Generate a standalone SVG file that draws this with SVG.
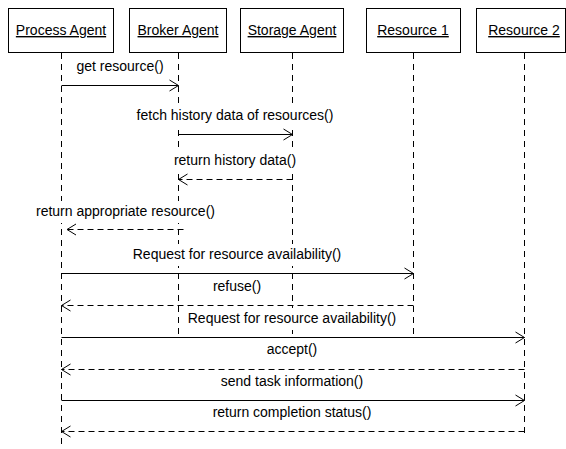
<svg xmlns="http://www.w3.org/2000/svg" width="566" height="449" viewBox="0 0 566 449">
<style>
  .box { fill: #ffffff; stroke: #000000; stroke-width: 1; }
  .name { font-family: "Liberation Sans", Arial, sans-serif; font-size: 14px; fill: #000000; text-anchor: middle; text-decoration: underline; }
  .life { stroke: #000000; stroke-width: 1; stroke-dasharray: 6,5; fill: none; }
  .msg { stroke: #000000; stroke-width: 1; fill: none; marker-end: url(#open); }
  .ret { stroke: #000000; stroke-width: 1; fill: none; stroke-dasharray: 6,4; marker-end: url(#open); }
  .lbl { font-family: "Liberation Sans", Arial, sans-serif; font-size: 14px; fill: #000000; text-anchor: middle; }
  .bg { fill: #ffffff; stroke: none; }
</style>
<defs>
  <marker id="open" markerUnits="userSpaceOnUse" markerWidth="12" markerHeight="14" refX="9" refY="6" orient="auto" overflow="visible">
    <path d="M0,0.5 L9,6 L0,11.5" fill="none" stroke="#000000" stroke-width="1" stroke-dasharray="none"/>
  </marker>
</defs>
<rect width="566" height="449" fill="#ffffff"/>

<g id="process-agent">
  <line class="life" x1="61.5" y1="53" x2="61.5" y2="449"/>
  <rect class="box" x="8.5" y="8.5" width="105" height="44"/>
  <text class="name" x="61" y="35">Process Agent</text>
</g>
<g id="broker-agent">
  <line class="life" x1="178.5" y1="53" x2="178.5" y2="338"/>
  <rect class="box" x="129.5" y="8.5" width="97" height="44"/>
  <text class="name" x="178" y="35">Broker Agent</text>
</g>
<g id="storage-agent">
  <line class="life" x1="292.5" y1="53" x2="292.5" y2="338"/>
  <rect class="box" x="240.5" y="8.5" width="103" height="44"/>
  <text class="name" x="292" y="35">Storage Agent</text>
</g>
<g id="resource-1">
  <line class="life" x1="413.5" y1="53" x2="413.5" y2="338"/>
  <rect class="box" x="366.5" y="8.5" width="94" height="44"/>
  <text class="name" x="413" y="35">Resource 1</text>
</g>
<g id="resource-2">
  <line class="life" x1="524.5" y1="53" x2="524.5" y2="434"/>
  <rect class="box" x="476.5" y="8.5" width="89" height="44"/>
  <text class="name" x="524" y="35">Resource 2</text>
</g>

<g id="connectors">
  <!-- label backgrounds -->
  <rect class="bg" x="73" y="56" width="93" height="22"/>
  <rect class="bg" x="134" y="105" width="202" height="22"/>
  <rect class="bg" x="171" y="150" width="128" height="22"/>
  <rect class="bg" x="33" y="201" width="185" height="22"/>
  <rect class="bg" x="130" y="244" width="214" height="22"/>
  <rect class="bg" x="210" y="276" width="54" height="22"/>
  <rect class="bg" x="185" y="308" width="214" height="22"/>
  <rect class="bg" x="264" y="339" width="57" height="22"/>
  <rect class="bg" x="218" y="371" width="149" height="22"/>
  <rect class="bg" x="210" y="402" width="165" height="22"/>

  <line class="msg" x1="61.5" y1="85.5" x2="178.5" y2="85.5"/>
  <text class="lbl" x="120" y="71">get resource()</text>

  <line class="msg" x1="178.5" y1="134.5" x2="292.5" y2="134.5"/>
  <text class="lbl" x="235" y="120">fetch history data of resources()</text>

  <line class="ret" x1="292.5" y1="179.5" x2="178.5" y2="179.5"/>
  <text class="lbl" x="235" y="165">return history data()</text>

  <line class="ret" x1="183.5" y1="229.5" x2="67" y2="229.5"/>
  <text class="lbl" x="125.5" y="216">return appropriate resource()</text>

  <line class="msg" x1="61.5" y1="273.5" x2="413.5" y2="273.5"/>
  <text class="lbl" x="237" y="259">Request for resource availability()</text>

  <line class="ret" x1="413.5" y1="305.5" x2="61.5" y2="305.5"/>
  <text class="lbl" x="237" y="291">refuse()</text>

  <line class="msg" x1="61.5" y1="337.5" x2="524.5" y2="337.5"/>
  <text class="lbl" x="292" y="323">Request for resource availability()</text>

  <line class="ret" x1="524.5" y1="369.5" x2="61.5" y2="369.5"/>
  <text class="lbl" x="292" y="354">accept()</text>

  <line class="msg" x1="61.5" y1="400.5" x2="524.5" y2="400.5"/>
  <text class="lbl" x="292" y="386">send task information()</text>

  <line class="ret" x1="524.5" y1="431.5" x2="61.5" y2="431.5"/>
  <text class="lbl" x="292" y="417">return completion status()</text>
</g>
</svg>
